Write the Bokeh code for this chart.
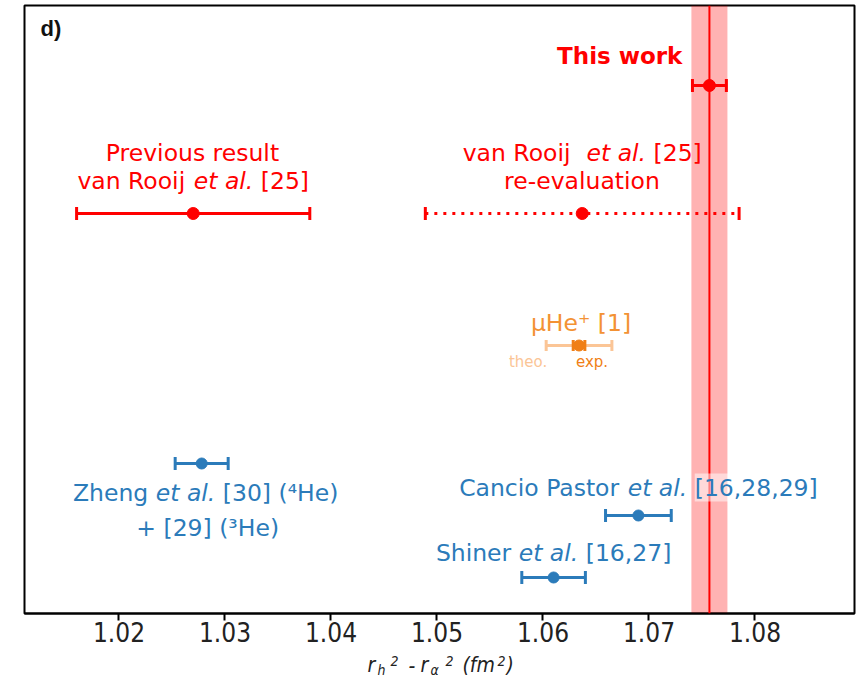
import numpy as np
from bokeh.plotting import figure
from bokeh.layouts import column
from bokeh.models import Label, Span, BoxAnnotation, FixedTicker, NumeralTickFormatter, Range1d
from bokeh.embed import file_html
from bokeh.resources import INLINE

# ---------------- data ----------------
x_ticks = [1.02, 1.03, 1.04, 1.05, 1.06, 1.07, 1.08]

this_work_value = 1.0757
this_work_err = 0.0016
this_work_band = 0.0017
this_work_row = 52.8

red_values = [1.0270, 1.0637]          # previous result, re-evaluation
red_errors = [0.0110, 0.0148]
red_rows = [40.0, 40.0]

muhe_value = 1.0634
muhe_theo_err = 0.0031
muhe_exp_err = 0.00055
muhe_row = 26.8

blue_values = [1.0278, 1.0690, 1.0610]  # Zheng, Cancio Pastor, Shiner
blue_errors = [0.0025, 0.0031, 0.0030]
blue_rows = [15.0, 9.8, 3.6]

# ---------------- styles ----------------
RED = "#ff0000"
BLUE = "#2b7bba"
ORANGE = "#f39234"
ORANGE_DARK = "#f07f16"
ORANGE_LIGHT = "#fbc596"
FONT = "DejaVu Sans"
CFONT = "DejaVu Sans Condensed"

X0, X1 = 1.011085, 1.089387
Y0, Y1 = 0.0, 60.8
WIDTH = 857
LEFT, RIGHT = 24, 3
MAIN_H = 652

p = figure(width=WIDTH, height=MAIN_H, output_backend="svg", toolbar_location=None,
           x_range=Range1d(X0, X1), y_range=Range1d(Y0, Y1),
           min_border_left=LEFT, min_border_right=RIGHT, min_border_top=5, min_border_bottom=39)
p.grid.visible = False
p.yaxis.visible = False
p.outline_line_color = "black"
p.outline_line_width = 2
p.outline_line_alpha = 1.0
p.background_fill_color = "white"
p.border_fill_color = "white"

ax = p.xaxis[0]
ax.ticker = FixedTicker(ticks=x_ticks)
ax.formatter = NumeralTickFormatter(format="0.00")
ax.major_label_text_font = CFONT
ax.major_label_text_font_size = "26px"
ax.major_label_text_color = "#222222"
ax.major_tick_out = 7
ax.major_tick_in = 0
ax.major_tick_line_width = 2
ax.minor_tick_line_color = None
ax.axis_line_width = 2
ax.major_label_standoff = 1

# band and line of this work
p.add_layout(BoxAnnotation(left=this_work_value - this_work_band, right=this_work_value + this_work_band,
                           fill_color=RED, fill_alpha=0.3, line_alpha=0, level="underlay"))
p.add_layout(Span(location=this_work_value, dimension="height", line_color=RED, line_width=2))


def errbar(x, err, y, color, lw=3, cap=13, dash="solid", size=12, mcolor=None):
    p.segment(x0=[x - err], x1=[x + err], y0=[y], y1=[y], line_color=color, line_width=lw, line_dash=dash)
    p.scatter(x=[x - err, x + err], y=[y, y], marker="dash", angle=np.pi / 2, size=cap,
              line_color=color, line_width=lw)
    if size:
        p.scatter(x=[x], y=[y], marker="circle", size=size,
                  fill_color=mcolor or color, line_color=mcolor or color)


errbar(this_work_value, this_work_err, this_work_row, RED)
errbar(red_values[0], red_errors[0], red_rows[0], RED)
errbar(red_values[1], red_errors[1], red_rows[1], RED, dash="3 6")
errbar(muhe_value, muhe_theo_err, muhe_row, ORANGE_LIGHT, cap=11, size=0)
errbar(muhe_value, muhe_exp_err, muhe_row, ORANGE_DARK, cap=11, size=11)
for v, e, r in zip(blue_values, blue_errors, blue_rows):
    errbar(v, e, r, BLUE, cap=13, size=11)

# ---------------- text ----------------
W = {' ': .318, '!': .401, '(': .390, ')': .390, '+': .838, ',': .318, '-': .361, '.': .318,
     '[': .390, ']': .390, 'A': .684, 'C': .698, 'H': .752, 'P': .603, 'R': .695, 'S': .635,
     'T': .611, 'Z': .685, 'a': .613, 'c': .550, 'd': .635, 'e': .615, 'f': .352, 'g': .635,
     'h': .634, 'i': .278, 'j': .278, 'k': .579, 'l': .278, 'm': .974, 'n': .634, 'o': .612,
     'p': .635, 'r': .411, 's': .521, 't': .392, 'u': .634, 'v': .592, 'w': .818, 'x': .592,
     'y': .592, 'z': .525, '\u00b3': .401, '\u2074': .401}
for d in "0123456789":
    W[d] = .636


def tw(s, size):
    return sum(W.get(c, .6) for c in s) * size


def add_text(x, y, pieces, dx, dy, size, color, bg=None):
    total = sum(tw(s, size) for s, _ in pieces)
    cur = dx - total / 2
    for s, it in pieces:
        lead = len(s) - len(s.lstrip(" "))
        st = s.strip(" ")
        off = cur + tw(s[:lead], size)
        kw = {}
        if bg:
            kw = dict(background_fill_color="white", background_fill_alpha=0.5)
        p.add_layout(Label(x=x, y=y, x_offset=off, y_offset=dy, text=st, text_align="left",
                           text_baseline="middle", text_font=FONT, text_font_size=f"{size}px",
                           text_font_style="italic" if it else "normal", text_color=color, **kw))
        cur += tw(s, size)


S = 23.5
add_text(red_values[0], red_rows[0], [("Previous result", False)], 0, 61, S, RED)
add_text(red_values[0], red_rows[0], [("van Rooij ", False), ("et al.", True), (" [25]", False)], 0, 33, S, RED)
add_text(red_values[1], red_rows[1], [("van Rooij  ", False), ("et al.", True), (" [25]", False)], 0, 61, S, RED)
add_text(red_values[1], red_rows[1], [("re-evaluation", False)], 0, 33, S, RED)

p.add_layout(Label(x=this_work_value, y=this_work_row, x_offset=-27, y_offset=30, text="This work",
                   text_align="right", text_baseline="middle", text_font=FONT, text_font_size="23px",
                   text_font_style="bold", text_color=RED))

p.add_layout(Label(x=muhe_value, y=muhe_row, x_offset=2, y_offset=23, text="\u03bcHe\u207a [1]",
                   text_align="center", text_baseline="middle", text_font=FONT, text_font_size="23.5px",
                   text_color=ORANGE))
p.add_layout(Label(x=muhe_value, y=muhe_row, x_offset=-51, y_offset=-16, text="theo.",
                   text_align="center", text_baseline="middle", text_font=FONT, text_font_size="15px",
                   text_color=ORANGE_LIGHT))
p.add_layout(Label(x=muhe_value, y=muhe_row, x_offset=13, y_offset=-16, text="exp.",
                   text_align="center", text_baseline="middle", text_font=FONT, text_font_size="15px",
                   text_color=ORANGE_DARK))

add_text(blue_values[0], blue_rows[0], [("Zheng ", False), ("et al.", True), (" [30] (\u2074He)", False)], 4, -29, S, BLUE)
add_text(blue_values[0], blue_rows[0], [("+ [29] (\u00b3He)", False)], 6, -64, S, BLUE)
add_text(blue_values[1], blue_rows[1], [("Cancio Pastor ", False), ("et al.", True), (" [16,28,29]", False)], 0, 28, S, BLUE, bg=True)
add_text(blue_values[2], blue_rows[2], [("Shiner ", False), ("et al.", True), (" [16,27]", False)], 0, 25, S, BLUE)

p.add_layout(Label(x=X0, y=Y1, x_offset=16, y_offset=-10, text="d)", text_align="left",
                   text_baseline="top", text_font="Liberation Sans", text_font_size="22px",
                   text_font_style="bold", text_color="#111111"))

# ---------------- axis title (separate strip below the plot) ----------------
TH = 33
t = figure(width=WIDTH, height=TH, output_backend="svg", toolbar_location=None,
           x_range=Range1d(LEFT, WIDTH - RIGHT), y_range=Range1d(0, TH),
           min_border_left=LEFT, min_border_right=RIGHT, min_border_top=0, min_border_bottom=0)
t.axis.visible = False
t.grid.visible = False
t.outline_line_color = None
t.background_fill_color = "white"
t.border_fill_color = "white"
# pieces: (text, x offset from plot-frame centre, baseline offset, size)
FRAME_MID = LEFT + (WIDTH - LEFT - RIGHT) / 2
axis_title = [("r", -72, 0, 21), ("h", -62, -5, 14), ("2", -49, 4, 14),
              ("-", -31, 0, 21), ("r", -19, 0, 21), ("\u03b1", -9, -5, 14),
              ("2", 6, 4, 14), ("(fm", 23, 0, 21), ("2", 58, 4, 14), (")", 67, 0, 21)]
for txt, dx, dy, sz in axis_title:
    t.add_layout(Label(x=FRAME_MID, y=21, x_offset=dx, y_offset=dy, text=txt, text_align="left",
                       text_baseline="alphabetic", text_font=CFONT, text_font_size=f"{sz}px",
                       text_font_style="italic", text_color="#222222"))

layout = column(p, t, spacing=0)
open("out.html", "w").write(file_html(layout, INLINE))
